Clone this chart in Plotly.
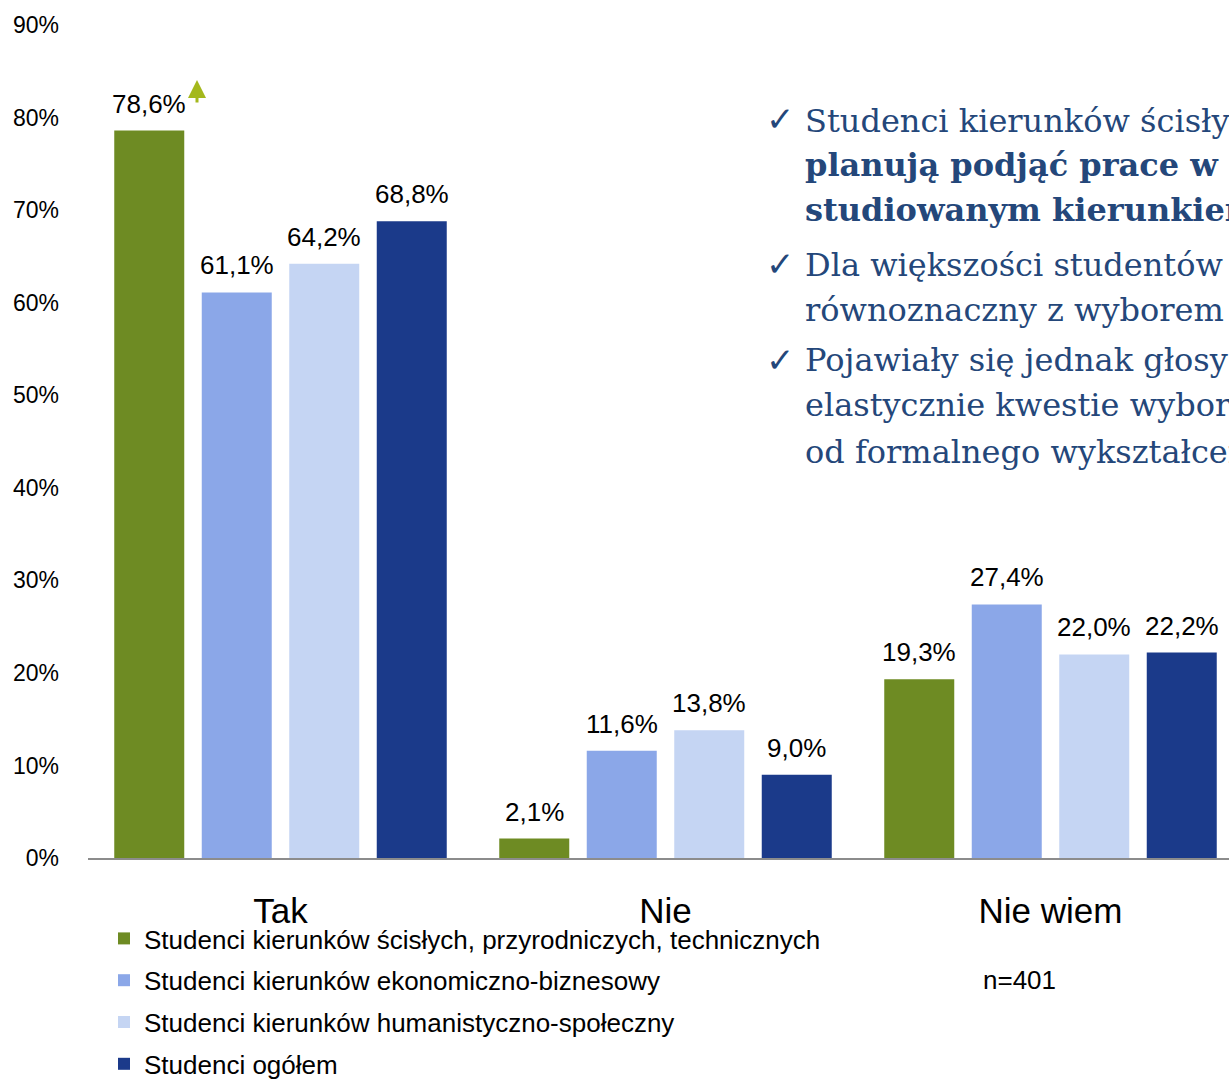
import plotly.graph_objects as go

# categories and series
categories = ["Tak", "Nie", "Nie wiem"]
series_names = [
    "Studenci kierunków ścisłych, przyrodniczych, technicznych",
    "Studenci kierunków ekonomiczno-biznesowy",
    "Studenci kierunków humanistyczno-społeczny",
    "Studenci ogółem",
]
scisle = [0.786, 0.021, 0.193]
ekonomiczne = [0.611, 0.116, 0.274]
humanistyczne = [0.642, 0.138, 0.220]
ogolem = [0.688, 0.090, 0.222]
colors = ["#6E8B23", "#8BA7E8", "#C5D5F3", "#1B3A8A"]

bullet_lines = [
    ("Studenci kierunków ścisłych", False),
    ("planują podjąć prace w zawodzie", True),
    ("studiowanym kierunkiem", True),
    ("Dla większości studentów", False),
    ("równoznaczny z wyborem", False),
    ("Pojawiały się jednak głosy", False),
    ("elastycznie kwestie wyboru", False),
    ("od formalnego wykształcenia", False),
]
bullet_y = [121, 165, 210, 265, 310, 360, 405, 452]
check_y = [119, 264, 360]

W, H = 1229, 1079
ML, MT, MB = 88, 25, 221
PW, PH = W - ML, H - MT - MB
sans = "Liberation Sans, Arial"


def px_x(p):
    return (p - ML) / PW


def px_y(p):
    return (H - MB - p) / PH


def fmt(v):
    return f"{v * 100:.1f}%".replace(".", ",")


fig = go.Figure()
all_series = [scisle, ekonomiczne, humanistyczne, ogolem]
for i, (name, vals, col) in enumerate(zip(series_names, all_series, colors)):
    fig.add_trace(go.Bar(
        x=categories, y=vals, name=name, legendgroup=f"g{i}",
        marker=dict(color=col, line=dict(width=0)),
    ))
    # value labels above the bars
    for cat, v in zip(categories, vals):
        fig.add_annotation(x=cat, y=v, xref="x", yref="y", xshift=(i - 1.5) * 87.5,
                           yshift=27, yanchor="middle", showarrow=False, text=fmt(v),
                           font=dict(family=sans, size=26, color="black"))

x_end = -0.5 + PW / 385.0

fig.update_layout(
    width=W, height=H,
    margin=dict(l=ML, r=0, t=MT, b=MB, autoexpand=False),
    plot_bgcolor="white", paper_bgcolor="white",
    barmode="group", bargap=0.0909, bargroupgap=0.2,
    xaxis=dict(range=[-0.5, x_end], showgrid=False, zeroline=False,
               showline=True, linecolor="#8C8C8C", linewidth=2, ticks="",
               ticklabelstandoff=21, automargin=False,
               tickfont=dict(family=sans, size=35, color="black")),
    yaxis=dict(range=[0, 0.9], dtick=0.1, tickformat=".0%", showgrid=False,
               zeroline=False, showline=False, ticks="", ticklabelstandoff=28,
               automargin=False,
               tickfont=dict(family=sans, size=23, color="black")),
    legend=dict(x=px_x(104), y=px_y(915), xref="paper", yref="paper",
                xanchor="left", yanchor="top", bgcolor="rgba(0,0,0,0)",
                font=dict(family=sans, size=26, color="black"),
                tracegroupgap=5, itemwidth=30),
    showlegend=True,
)

# text block on the right
for (txt, bold), yy in zip(bullet_lines, bullet_y):
    fig.add_annotation(
        x=px_x(803), y=px_y(yy), xref="paper", yref="paper",
        xanchor="left", yanchor="middle", showarrow=False,
        text=f"<b>{txt}</b>" if bold else txt,
        font=dict(family="DejaVu Serif, Liberation Serif, serif", size=32, color="#24477A"),
    )
for yy in check_y:
    fig.add_annotation(
        x=px_x(764), y=px_y(yy), xref="paper", yref="paper",
        xanchor="left", yanchor="middle", showarrow=False,
        text="✓", font=dict(family="DejaVu Sans", size=34, color="#24477A"),
    )

# n count
fig.add_annotation(x=px_x(981), y=px_y(980), xref="paper", yref="paper",
                   xanchor="left", yanchor="middle", showarrow=False,
                   text="n=401", font=dict(family=sans, size=26, color="black"))

# up arrow next to the highest value
fig.add_annotation(x=px_x(197), y=px_y(80), xref="paper", yref="paper",
                   ax=0, ay=24, text="", showarrow=True, arrowhead=2, arrowsize=1.2,
                   arrowwidth=3, arrowcolor="#A4B81C")

fig.write_html("out.html", config={"displayModeBar": False},
               post_script="document.body.style.margin='0';")
